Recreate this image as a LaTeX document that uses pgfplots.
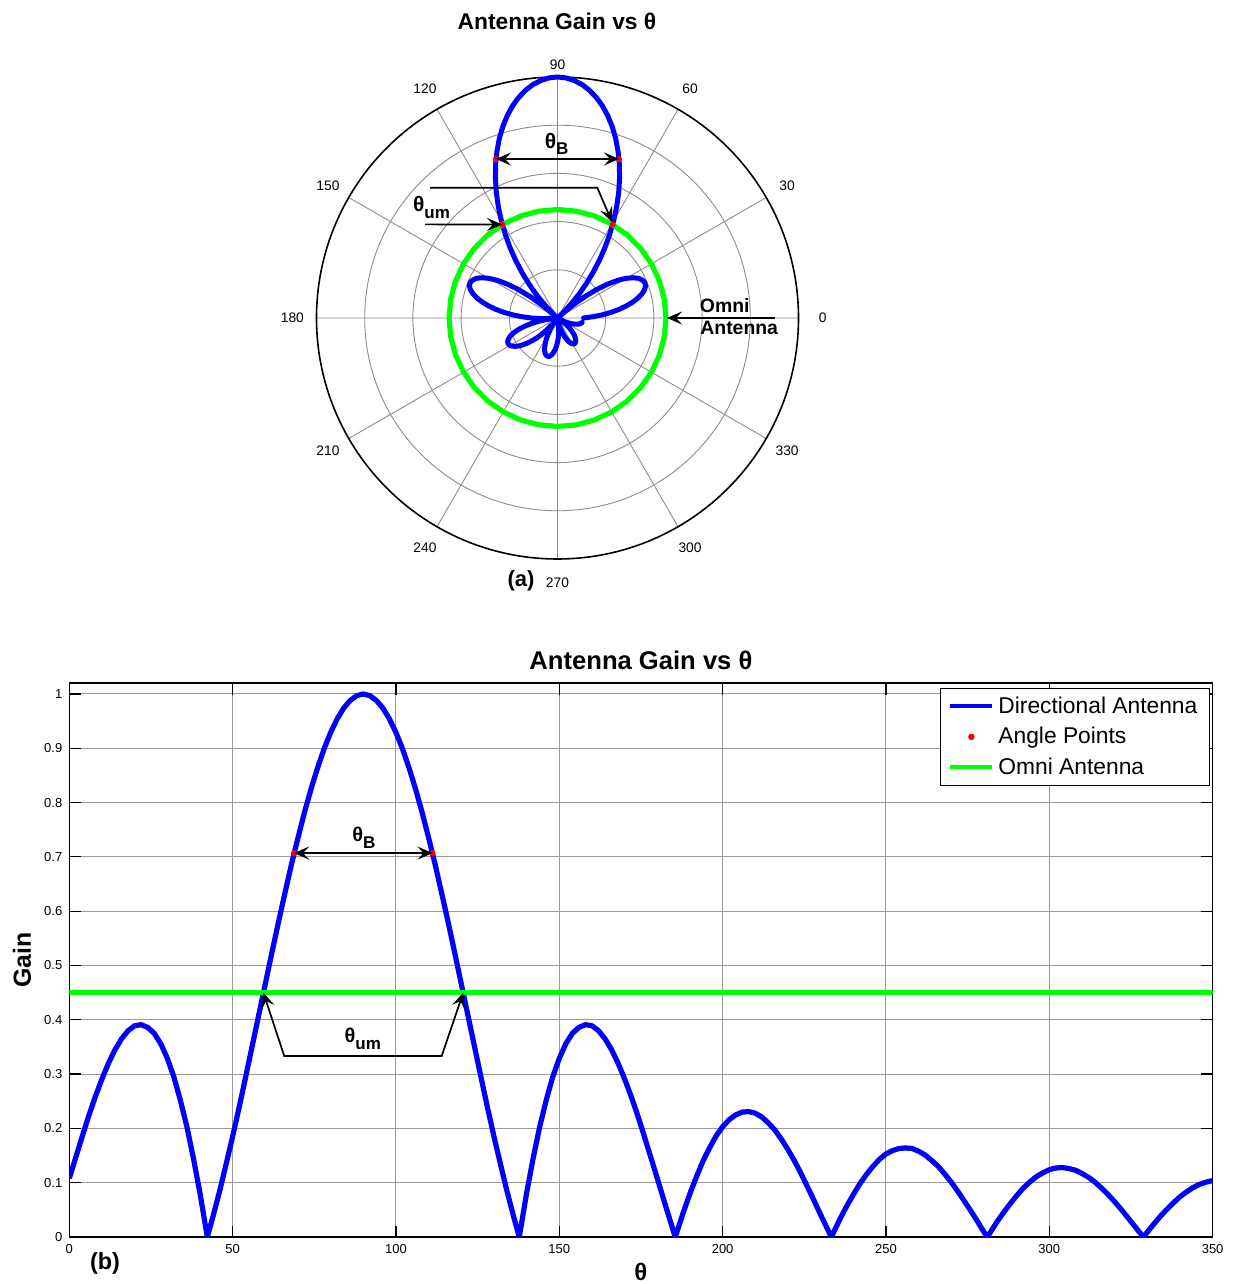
\documentclass[border=0pt]{standalone}
\usepackage{fontspec}
\setmainfont{Liberation Sans}
\usepackage{pgfplots}
\pgfplotsset{compat=1.18}
\usepackage{pgfplotstable}
\usepgfplotslibrary{polar}
\usetikzlibrary{arrows.meta}

\definecolor{dirblue}{RGB}{0,0,255}
\definecolor{omnigreen}{RGB}{0,255,0}
\definecolor{ptred}{RGB}{255,0,0}

\newcommand{\fsz}[1]{\fontsize{#1}{#1}\selectfont}
% theta with a lowered bold subscript
\newcommand{\thsub}[1]{θ\raisebox{-3.3pt}{\fsz{8.5}\bfseries #1}}

% gain of the directional antenna against angle (degrees)
\pgfplotstableread{
theta gain
0 0.108
2 0.147
4 0.186
6 0.224
8 0.259
10 0.291
12 0.320
14 0.345
16 0.365
18 0.380
20 0.389
22 0.391
24 0.386
26 0.375
28 0.356
30 0.329
32 0.295
34 0.252
36 0.203
38 0.145
40 0.081
42 0.009
42.25 0
44 0.038
46 0.084
48 0.134
50 0.185
52 0.239
54 0.295
56 0.352
58 0.409
60 0.466
62 0.523
64 0.579
66 0.633
68 0.686
70 0.735
72 0.782
74 0.825
76 0.864
78 0.899
80 0.929
82 0.954
84 0.974
86 0.988
88 0.997
90 1.000
92 0.997
94 0.988
96 0.974
98 0.954
100 0.929
102 0.899
104 0.864
106 0.825
108 0.782
110 0.735
112 0.686
114 0.633
116 0.579
118 0.523
120 0.466
122 0.409
124 0.352
126 0.295
128 0.239
130 0.185
132 0.134
134 0.084
136 0.038
137.75 0
138 0.009
140 0.081
142 0.145
144 0.203
146 0.252
148 0.295
150 0.329
152 0.356
154 0.375
156 0.386
158 0.391
160 0.389
162 0.380
164 0.365
166 0.345
168 0.320
170 0.291
172 0.259
174 0.224
176 0.186
178 0.147
180 0.108
182 0.068
184 0.029
185.5 0
186 0.009
188 0.046
190 0.080
192 0.111
194 0.140
196 0.164
198 0.186
200 0.203
202 0.216
204 0.225
206 0.230
208 0.231
210 0.228
212 0.221
214 0.210
216 0.197
218 0.180
220 0.161
222 0.140
224 0.117
226 0.092
228 0.067
230 0.041
232 0.016
233.25 0
234 0.009
236 0.034
238 0.057
240 0.078
242 0.098
244 0.115
246 0.130
248 0.143
250 0.153
252 0.159
254 0.163
256 0.164
258 0.163
260 0.158
262 0.151
264 0.141
266 0.130
268 0.116
270 0.101
272 0.084
274 0.066
276 0.048
278 0.029
280 0.009
281 0
282 0.009
284 0.028
286 0.045
288 0.061
290 0.076
292 0.090
294 0.101
296 0.111
298 0.118
300 0.124
302 0.127
304 0.128
306 0.126
308 0.123
310 0.117
312 0.110
314 0.101
316 0.090
318 0.078
320 0.065
322 0.051
324 0.036
326 0.021
328 0.006
328.75 0
330 0.009
332 0.024
334 0.038
336 0.051
338 0.063
340 0.074
342 0.083
344 0.091
346 0.097
348 0.101
350 0.104
}\gaintable

% half-power and omni-crossing angles
\pgfplotstableread{
theta gain
68.8 0.707
111.2 0.707
59.4 0.45
120.6 0.45
}\angletable

% omni antenna: constant gain all round
\pgfplotstableread{
theta gain
0 0.45
10 0.45
20 0.45
30 0.45
40 0.45
50 0.45
60 0.45
70 0.45
80 0.45
90 0.45
100 0.45
110 0.45
120 0.45
130 0.45
140 0.45
150 0.45
160 0.45
170 0.45
180 0.45
190 0.45
200 0.45
210 0.45
220 0.45
230 0.45
240 0.45
250 0.45
260 0.45
270 0.45
280 0.45
290 0.45
300 0.45
310 0.45
320 0.45
330 0.45
340 0.45
350 0.45
360 0.45
}\omnicircle

\tikzset{
  ann/.style={black, line width=0.85pt},
  >={Stealth[length=7.5pt,width=6.5pt,inset=3pt]},
}

\begin{document}
\begin{tikzpicture}
\useasboundingbox (0,0) rectangle (618.5pt,642pt);

% ---------- (a) polar pattern ----------
\begin{polaraxis}[
  at={(278.75pt,483pt)}, anchor=origin,
  scale only axis, width=241pt, height=241pt,
  xmin=0, xmax=360, ymin=0, ymax=1,
  xtick={0,30,...,330}, xticklabels={},
  ytick={0.2,0.4,0.6,0.8}, yticklabels={},
  grid=major,
  major grid style={black!45, line width=0.45pt},
  axis line style={black, line width=0.8pt},
  y axis line style={draw=none},
  major tick length=0pt,
  clip=false,
]
\addplot[dirblue, line width=2.5pt, line join=round, line cap=round] table[x=theta,y=gain]{\gaintable};
\addplot[only marks, mark=*, ptred, mark size=1.3pt] table[x=theta,y=gain]{\angletable};
\addplot[omnigreen, line width=2.6pt, line join=round] table[x=theta,y=gain]{\omnicircle};
\pgfplotsinvokeforeach{0,30,60,120,150,180,210,240,270,300,330}{
  \node[font=\fsz{6.9}] at (axis cs:#1,1.1) {#1};
}
\node[font=\fsz{6.9}] at (axis cs:90,1.05) {90};
\end{polaraxis}

% ---------- (b) gain against angle ----------
\begin{axis}[
  at={(34.65pt,23.5pt)}, anchor=south west,
  scale only axis, width=571.65pt, height=276.85pt,
  xmin=0, xmax=350, ymin=0, ymax=1.0197,
  xtick={0,50,100,150,200,250,300,350},
  ytick={0,0.1,0.2,0.3,0.4,0.5,0.6,0.7,0.8,0.9,1},
  yticklabels={0,0.1,0.2,0.3,0.4,0.5,0.6,0.7,0.8,0.9,1},
  tick pos=both, tick align=inside, major tick length=5.7pt,
  tick style={black, line width=0.6pt},
  grid=major, major grid style={black!40, line width=0.5pt},
  axis line style={black, line width=0.8pt},
  ticklabel style={font=\fsz{6.5}},
  /pgf/number format/assume math mode=true,
  every axis title shift=0pt,
  title={Antenna Gain vs θ},
  title style={font=\bfseries\fsz{12.8}, at={(axis description cs:0.5,1.0421)}, anchor=center},
  xlabel={θ},
  xlabel style={font=\bfseries\fsz{12}, at={(axis description cs:0.5,-0.0632)}, anchor=center},
  ylabel={Gain},
  ylabel style={font=\bfseries\fsz{12.4}, at={(axis description cs:-0.0414,0.5)}, anchor=center},
  clip mode=individual,
  legend style={at={(axis description cs:0.9977,0.9915)}, anchor=north east,
    draw=black, line width=0.6pt, fill=white, font=\fsz{11.4},
    inner xsep=4pt, inner ysep=2pt, row sep=1.5pt, cells={anchor=west}},
]
\addplot[dirblue, line width=2.6pt, line join=round,
  legend image code/.code={\draw[dirblue, line width=2pt] (0pt,0pt) -- (21pt,0pt);}]
  table[x=theta,y=gain]{\gaintable};
\addlegendentry{Directional Antenna}
\addplot[only marks, mark=*, ptred, mark size=1.3pt,
  legend image code/.code={\fill[ptred] (10.5pt,0pt) circle (1.3pt);}]
  table[x=theta,y=gain]{\angletable};
\addlegendentry{Angle Points}
\addplot[omnigreen, line width=2.6pt,
  legend image code/.code={\draw[omnigreen, line width=2pt] (0pt,0pt) -- (21pt,0pt);}]
  coordinates {(0,0.45) (350,0.45)};
\addlegendentry{Omni Antenna}

\draw[ann, <->] (axis cs:68.8,0.707) -- (axis cs:111.2,0.707);
\node[font=\bfseries\fsz{10}] at (axis cs:90.2,0.735) {\thsub{B}};
\draw[ann, <->] (axis cs:59.4,0.45) -- (axis cs:65.8,0.3333)
  -- (axis cs:114,0.3333) -- (axis cs:120.6,0.45);
\node[font=\bfseries\fsz{10}] at (axis cs:89.85,0.365) {\thsub{um}};
\node[font=\bfseries\fsz{11.7}] at (axis description cs:0.0312,-0.047) {(b)};
\end{axis}

% ---------- labels and arrows of (a), placed in pixel units ----------
\begin{scope}[x=0.5pt, y=-0.5pt, shift={(0pt,642pt)}]
\node[font=\bfseries\fsz{11.4}] at (557,21) {Antenna Gain vs θ};
\node[font=\bfseries\fsz{11}] at (521,581) {(a)};
\draw[ann, <->] (496,159) -- (619,159);
\node[font=\bfseries\fsz{10.5}] at (556.7,144) {\thsub{B}};
\node[font=\bfseries\fsz{10.5}] at (431.5,207.5) {\thsub{um}};
\draw[ann, ->] (425,224.4) -- (502,224.5);
\draw[ann, ->] (430,187.7) -- (597.3,187.7) -- (612,222);
\draw[ann, ->] (775,318) -- (667,318);
\node[anchor=base west, inner sep=0pt, font=\bfseries\fsz{9.7}] at (699.5,312.7) {Omni};
\node[anchor=base west, inner sep=0pt, font=\bfseries\fsz{9.7}] at (700,335) {Antenna};
\end{scope}
\end{tikzpicture}
\end{document}
